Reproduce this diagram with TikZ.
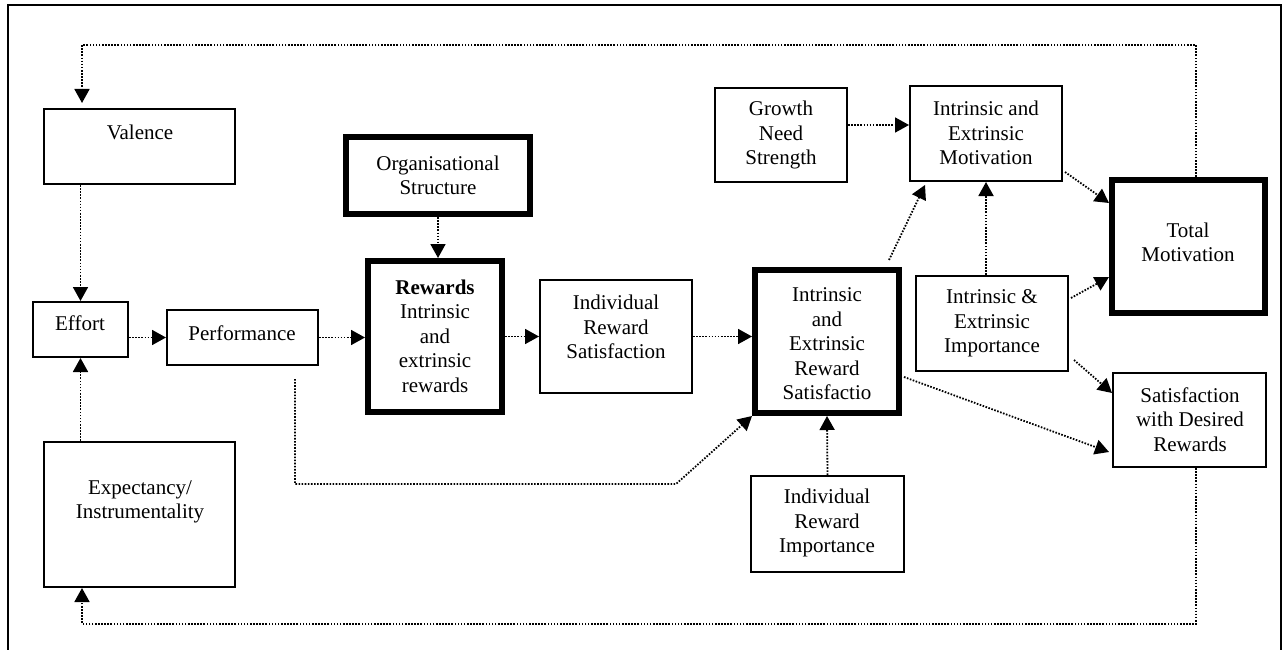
\documentclass[tikz,border=0pt]{standalone}
\usepackage{fontspec}
\setmainfont{Liberation Serif}
\usetikzlibrary{arrows.meta,calc}
\begin{document}
\begin{tikzpicture}[x=1pt,y=-1pt,
  thinbox/.style={draw, line width=1.8pt, inner sep=0pt},
  thickbox/.style={draw, line width=6pt, inner sep=0pt},
  lbl/.style={align=center, inner sep=0pt, font=\fontsize{21}{24.5}\selectfont},
  link/.style={line width=1.8pt, dash pattern=on 1.6pt off 1.5pt,
               -{Triangle[length=14pt,width=15pt]}}]
\useasboundingbox (0,0) rectangle (1287,650);

% outer frame
\draw[line width=1.5pt] (8,650) -- (8,5) -- (1281,5) -- (1281,650);

% boxes
\node[thinbox, minimum width=191.2pt, minimum height=75.2pt] (valence) at (139.5,146.5) {};
\node[thinbox, minimum width=95.2pt, minimum height=55.2pt] (effort) at (80.5,329.5) {};
\node[thinbox, minimum width=151.2pt, minimum height=55.2pt] (perf) at (242.5,337.5) {};
\node[thickbox, minimum width=184pt, minimum height=77pt] (org) at (438,175.5) {};
\node[thickbox, minimum width=134pt, minimum height=151pt] (rewards) at (435,336.5) {};
\node[thinbox, minimum width=152.2pt, minimum height=113.2pt] (irs) at (616,336.5) {};
\node[thickbox, minimum width=144pt, minimum height=143pt] (iers) at (827,341.5) {};
\node[thinbox, minimum width=132.2pt, minimum height=94.2pt] (gns) at (781,135) {};
\node[thinbox, minimum width=152.2pt, minimum height=95.2pt] (iem) at (986,133.5) {};
\node[thickbox, minimum width=153pt, minimum height=133pt] (tm) at (1188.5,246.5) {};
\node[thinbox, minimum width=152.2pt, minimum height=95.2pt] (iei) at (992,323.5) {};
\node[thinbox, minimum width=153.2pt, minimum height=94.2pt] (sdr) at (1189.5,420) {};
\node[thinbox, minimum width=153.2pt, minimum height=96.2pt] (iri) at (827.5,524) {};
\node[thinbox, minimum width=191.2pt, minimum height=145.2pt] (expect) at (139.5,514.5) {};

% box texts
\node[lbl] (valence-t) at (140,132) {Valence};
\node[lbl] (effort-t) at (80,323) {Effort};
\node[lbl] (perf-t) at (242,333) {Performance};
\node[lbl] (org-t) at (438,175.5) {Organisational\\Structure};
\node[lbl] (rewards-t) at (435,336) {\bfseries Rewards\\Intrinsic\\and\\extrinsic\\rewards};
\node[lbl] (irs-t) at (616,327) {Individual\\Reward\\Satisfaction};
\node[lbl] (iers-t) at (827,344) {Intrinsic\\and\\Extrinsic\\Reward\\Satisfactio};
\node[lbl] (gns-t) at (781,135) {Growth\\Need\\Strength};
\node[lbl] (iem-t) at (986,133) {Intrinsic and\\Extrinsic\\Motivation};
\node[lbl] (tm-t) at (1188,242.5) {Total\\Motivation};
\node[lbl] (iei-t) at (992,323.5) {Intrinsic \&\\Extrinsic\\Importance};
\node[lbl] (sdr-t) at (1190,419.5) {Satisfaction\\with Desired\\Rewards};
\node[lbl] (iri-t) at (827,523) {Individual\\Reward\\Importance};
\node[lbl] (expect-t) at (140,502) {Expectancy/\\Instrumentality};

% corner points of the routed feedback lines
\coordinate (topR) at (1196,45);
\coordinate (topL) at (82,45);
\coordinate (botR) at (1196,624);
\coordinate (botL) at (82,624);
\coordinate (pb) at (295,484);
\coordinate (pk) at (676,484);
\coordinate (g1) at ($(gns.east)+(0,-10)$);

% connectors
\draw[link, shorten >=5pt] (tm.north -| topR) -- (topR) -- (topL) -- (valence.north -| topL);
\draw[link] (valence.south -| effort.north) -- (effort.north);
\draw[link] (expect.north -| effort.south) -- (effort.south);
\draw[link] (effort.east |- perf.west) -- (perf.west);
\draw[link] (perf.east) -- (perf.east -| rewards.west);
\draw[link] (org.south) -- (org.south |- rewards.north);
\draw[link] (rewards.east) -- (rewards.east -| irs.west);
\draw[link] (irs.east) -- (irs.east -| iers.west);
\draw[link] (sdr.south -| botR) -- (botR) -- (botL) -- (expect.south -| botL);
\draw[link, shorten <=13pt] (perf.south -| pb) -- (pb) -- (pk) -- (iers.south west);
\draw[link] ($(iers.north east)+(-13,-7)$) -- ($(iem.south west)+(16,3)$);
\draw[link] (iei.north -| iem.south) -- (iem.south);
\draw[link] ($(iem.south east)+(2,-10)$) -- ($(tm.north west)+(0,26)$);
\draw[link] ($(iei.north east)+(2,23)$) -- ($(tm.south west)+(0,-39)$);
\draw[link] ($(iei.south east)+(5,-12)$) -- ($(sdr.north west)+(0,21)$);
\draw[link] ($(iers.south east)+(2,-39)$) -- ($(sdr.south west)+(-3,-16)$);
\draw[link] (g1) -- (g1 -| iem.west);
\draw[link] (iri.north) -- (iers.south);
\end{tikzpicture}
\end{document}
